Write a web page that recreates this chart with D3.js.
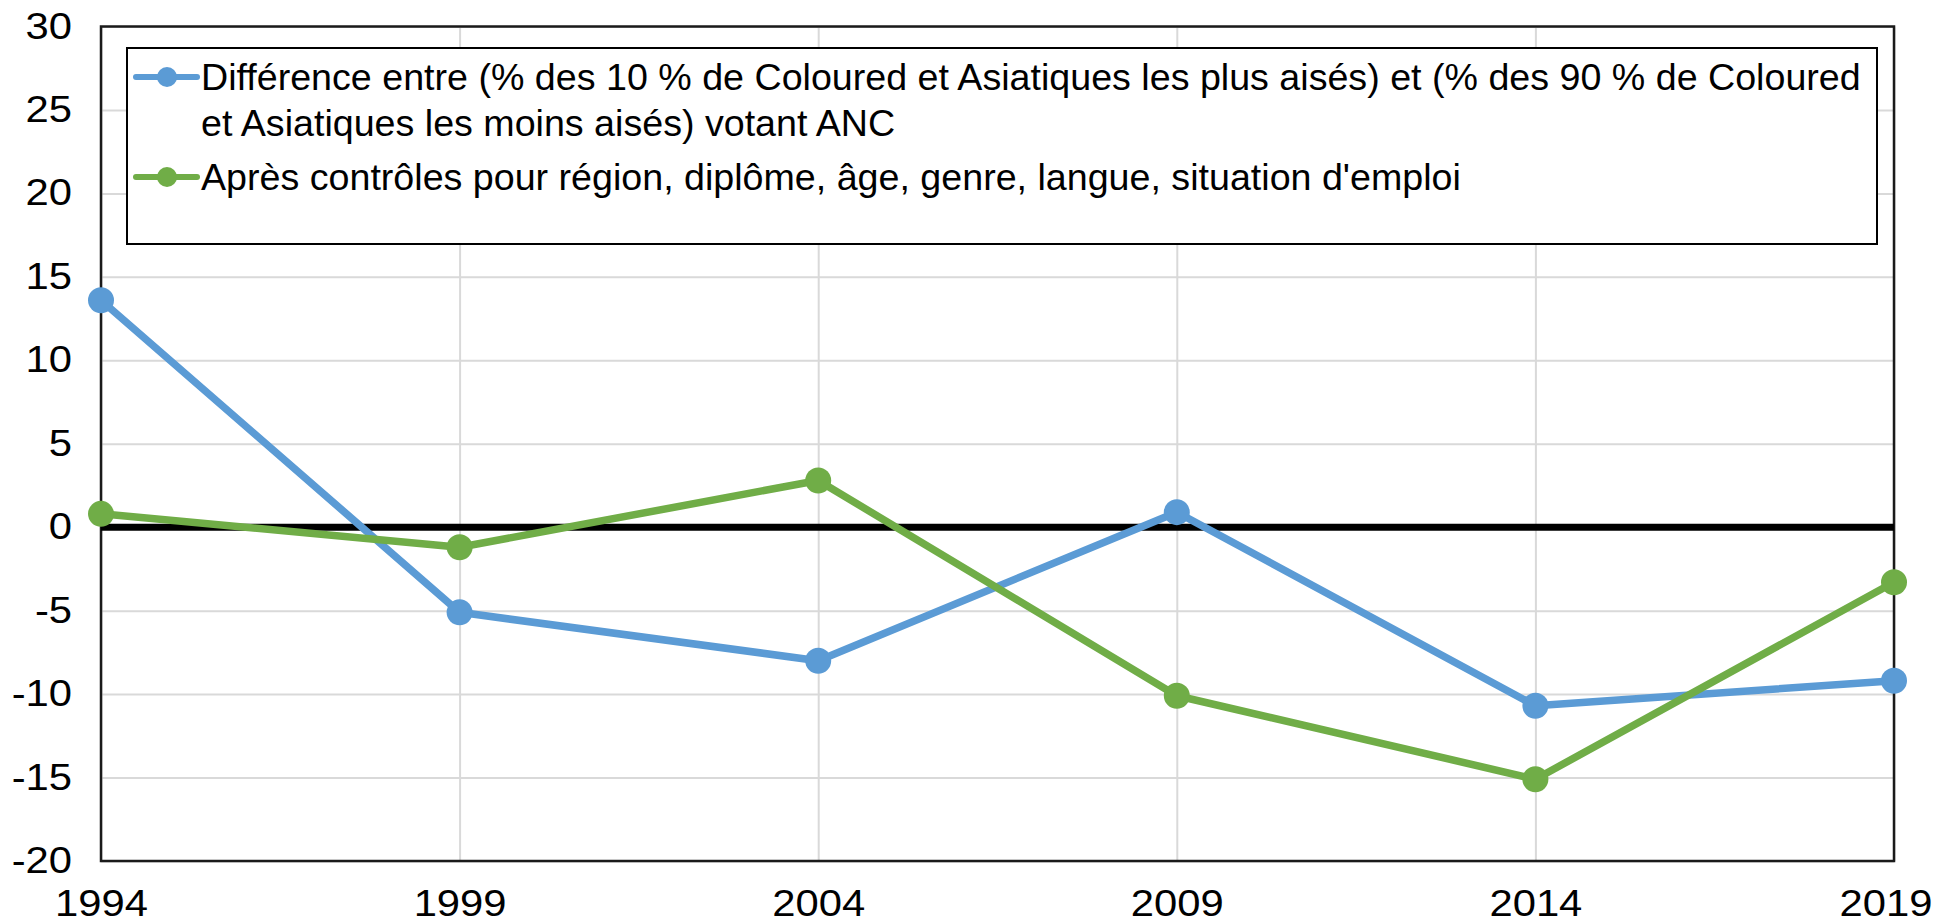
<!DOCTYPE html>
<html>
<head>
<meta charset="utf-8">
<script src="https://cdn.jsdelivr.net/npm/d3@7"></script>
<style>
  html, body { margin: 0; padding: 0; background: #fff; }
  svg { display: block; }
  text { font-family: "Liberation Sans", Arial, sans-serif; fill: #000; }
</style>
</head>
<body>
<svg id="chart" width="1935" height="923"></svg>
<script>
// ---- data ----
const years = [1994, 1999, 2004, 2009, 2014, 2019];
const diffRaw = [13.6, -5.1, -8.0, 0.9, -10.7, -9.2];
const diffControlled = [0.8, -1.2, 2.8, -10.1, -15.1, -3.3];
const yTickValues = [-20, -15, -10, -5, 0, 5, 10, 15, 20, 25, 30];
const xTickLabels = ["1994", "1999", "2004", "2009", "2014", "2019"];
const legendLabels = [
  ["Différence entre (% des 10 % de Coloured et Asiatiques les plus aisés) et (% des 90 % de Coloured",
   "et Asiatiques les moins aisés) votant ANC"],
  ["Après contrôles pour région, diplôme, âge, genre, langue, situation d'emploi"]
];
const seriesColors = ["#5B9BD5", "#70AD47"];

(function () {
// ---- layout ----
const W = 1935, H = 923;
const pLeft = 101, pRight = 1894, pTop = 26.5, pBottom = 861;
const tickFont = 36, tickStretch = 1.16;
const legendFont = 36, legendStretch = 1.045;
const svg = d3.select("#chart");

const x = d3.scaleLinear().domain([1994, 2019]).range([pLeft, pRight]);
const y = d3.scaleLinear().domain([-20, 30]).range([pBottom, pTop]);

function stretch(sel, k) {
  sel.each(function () {
    const w = this.getComputedTextLength();
    d3.select(this).attr("textLength", w * k).attr("lengthAdjust", "spacingAndGlyphs");
  });
}

// gridlines
svg.append("g")
  .attr("transform", `translate(${pLeft},0)`)
  .call(d3.axisLeft(y).tickValues(yTickValues).tickSize(-(pRight - pLeft)).tickFormat(""))
  .call(g => g.select(".domain").remove())
  .call(g => g.selectAll("line").attr("stroke", "#d9d9d9").attr("stroke-width", 2));
svg.append("g")
  .attr("transform", `translate(0,${pBottom})`)
  .call(d3.axisBottom(x).tickValues(years).tickSize(-(pBottom - pTop)).tickFormat(""))
  .call(g => g.select(".domain").remove())
  .call(g => g.selectAll("line").attr("stroke", "#d9d9d9").attr("stroke-width", 2));

// plot border
svg.append("rect")
  .attr("x", pLeft).attr("y", pTop)
  .attr("width", pRight - pLeft).attr("height", pBottom - pTop)
  .attr("fill", "none").attr("stroke", "#1a1a1a").attr("stroke-width", 2.5);

// y axis labels
svg.append("g")
  .attr("transform", `translate(${pLeft},0)`)
  .call(d3.axisLeft(y).tickValues(yTickValues).tickSize(0).tickPadding(29).tickFormat(d => String(d)))
  .call(g => g.select(".domain").remove())
  .call(g => g.selectAll("text")
    .attr("font-size", tickFont).attr("fill", "#000")
    .style("font-family", '"Liberation Sans", Arial, sans-serif')
    .call(stretch, tickStretch));

// x axis labels
const xa = svg.append("g")
  .attr("transform", `translate(0,${pBottom})`)
  .call(d3.axisBottom(x).tickValues(years).tickSize(0).tickPadding(29).tickFormat((d, i) => xTickLabels[i]))
  .call(g => g.select(".domain").remove())
  .call(g => g.selectAll("text")
    .attr("font-size", tickFont).attr("fill", "#000")
    .style("font-family", '"Liberation Sans", Arial, sans-serif')
    .call(stretch, tickStretch));
// keep end labels inside the picture
xa.selectAll(".tick").each(function (d) {
  const t = d3.select(this).select("text");
  const bb = t.node().getBBox();
  const tx = x(d);
  if (tx + bb.x < 1) t.attr("x", 1 - tx - bb.x);
  if (tx + bb.x + bb.width > W - 3) t.attr("x", (W - 3) - (tx + bb.x + bb.width));
});

// zero line
svg.append("line")
  .attr("x1", pLeft).attr("x2", pRight)
  .attr("y1", y(0)).attr("y2", y(0))
  .attr("stroke", "#000").attr("stroke-width", 7);

// series
const series = [diffRaw, diffControlled];
const line = d3.line().x((d, i) => x(years[i])).y(d => y(d));
series.forEach((vals, si) => {
  svg.append("path")
    .datum(vals)
    .attr("d", line)
    .attr("fill", "none")
    .attr("stroke", seriesColors[si])
    .attr("stroke-width", 7.5)
    .attr("stroke-linejoin", "round");
  svg.append("g").selectAll("circle")
    .data(vals)
    .join("circle")
    .attr("cx", (d, i) => x(years[i]))
    .attr("cy", d => y(d))
    .attr("r", 13)
    .attr("fill", seriesColors[si]);
});

// legend
const lg = svg.append("g");
lg.append("rect")
  .attr("x", 127).attr("y", 48).attr("width", 1750).attr("height", 196)
  .attr("fill", "#fff").attr("stroke", "#000").attr("stroke-width", 2);
const itemY = [77, 177];
const lineGap = 46;
legendLabels.forEach((lines, i) => {
  const cy = itemY[i];
  lg.append("line")
    .attr("x1", 136).attr("x2", 197).attr("y1", cy).attr("y2", cy)
    .attr("stroke", seriesColors[i]).attr("stroke-width", 6).attr("stroke-linecap", "round");
  lg.append("circle").attr("cx", 167).attr("cy", cy).attr("r", 10).attr("fill", seriesColors[i]);
  lines.forEach((txt, j) => {
    lg.append("text")
      .attr("x", 201).attr("y", cy + 13 + j * lineGap)
      .attr("font-size", legendFont)
      .text(txt)
      .call(stretch, legendStretch);
  });
});
})();
</script>
</body>
</html>
